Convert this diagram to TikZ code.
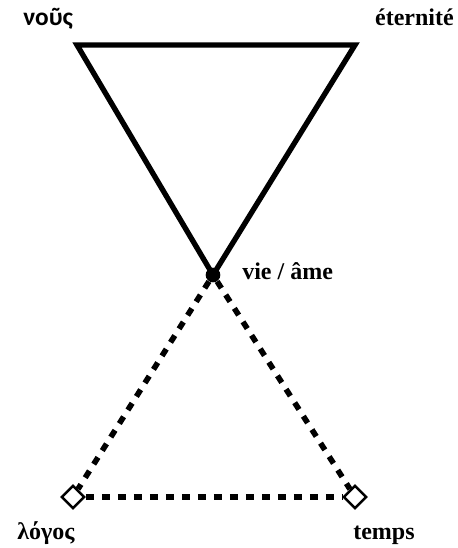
\documentclass[tikz,border=0pt]{standalone}
\usepackage{fontspec}
\setmainfont{Liberation Serif}
\newfontfamily\greeksans{Carlito}
\usetikzlibrary{positioning,shapes.geometric}

\begin{document}
\begin{tikzpicture}[x=0.75pt, y=-0.75pt,
  lab/.style={font=\fontsize{18}{21}\selectfont\bfseries, inner sep=0pt},
  solidline/.style={line width=4pt, line join=miter},
  dashline/.style={line width=4.2pt, dash pattern=on 6pt off 6pt},
  corner/.style={diamond, draw, line width=1.9pt, fill=white, minimum size=17.5pt, inner sep=0pt},
  knot/.style={circle, fill=black, minimum size=11pt, inner sep=0pt}]
  \useasboundingbox (0,0) rectangle (457,548);
  % upper triangle
  \coordinate (nousC) at (77,45);
  \coordinate (eterC) at (355,45);
  \coordinate (vieC) at (213,275);
  \draw[solidline] (nousC) -- (eterC) -- (vieC) -- cycle;
  % lower triangle
  \node[knot] (vie) at (vieC) {};
  \node[corner] (logos) at (73,497) {};
  \node[corner] (temps) at (355,497) {};
  \draw[dashline] (vie) -- (logos);
  \draw[dashline] (vie) -- (temps);
  \draw[dashline] (logos) -- (temps);
  % labels
  \node[lab, anchor=base west] (nous) at (23,26) {\greeksans\fontsize{19}{22}\selectfont νοῦς};
  \node[lab, anchor=base east] (eter) at (454,26) {éternité};
  \node[lab, anchor=base west] (vieL) at (242,279) {vie / âme};
  \node[lab, anchor=base west] (logosL) at (17,539) {λόγος};
  \node[lab, anchor=base west] (tempsL) at (353,539) {temps};
\end{tikzpicture}
\end{document}
